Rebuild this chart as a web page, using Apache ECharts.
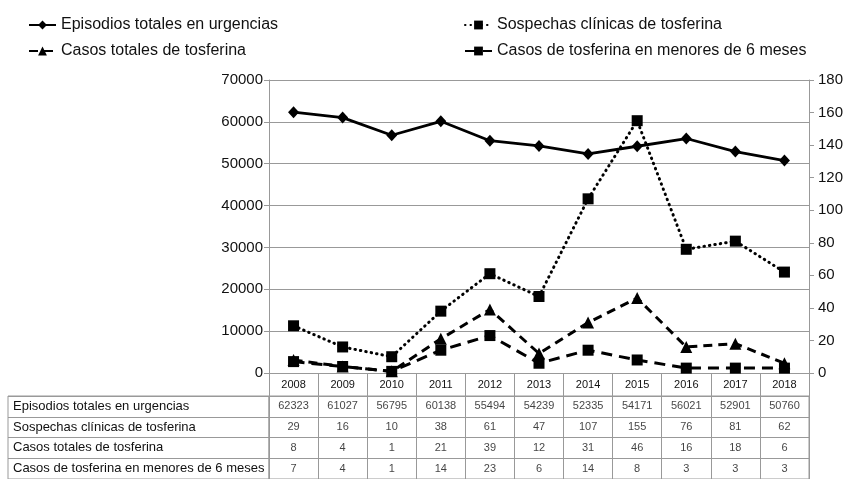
<!DOCTYPE html>
<html><head><meta charset="utf-8">
<script src="https://cdn.jsdelivr.net/npm/echarts@6/dist/echarts.min.js"></script>
<style>html,body{margin:0;padding:0;background:#fff}#c{width:848px;height:479px}</style>
</head><body><div id="c"></div>
<script>
var years = ['2008','2009','2010','2011','2012','2013','2014','2015','2016','2017','2018'];
var episodios = [62323,61027,56795,60138,55494,54239,52335,54171,56021,52901,50760];
var sospechas = [29,16,10,38,61,47,107,155,76,81,62];
var casosTotales = [8,4,1,21,39,12,31,46,16,18,6];
var menores6 = [7,4,1,14,23,6,14,8,3,3,3];
var seriesNames = ['Episodios totales en urgencias','Sospechas clínicas de tosferina','Casos totales de tosferina','Casos de tosferina en menores de 6 meses'];
var leftTicks = {min:0, max:70000, interval:10000};
var rightTicks = {min:0, max:180, interval:20};

var FONT = 'Liberation Sans, Arial, sans-serif';
var GRID_C = '#999';
var rows = [episodios, sospechas, casosTotales, menores6];
var cells = [];
rows.forEach(function(r, ri){ r.forEach(function(v, ci){ cells.push([ci, ri, v]); }); });

var chart = echarts.init(document.getElementById('c'));
chart.setOption({
  animation:false,
  textStyle:{fontFamily:FONT},
  legend:[
    {data:[seriesNames[0], seriesNames[2]], orient:'vertical', left:23, top:12, itemWidth:27, itemHeight:11, itemGap:10,
     textStyle:{fontSize:16, color:'#111', fontFamily:FONT}},
    {data:[seriesNames[1], seriesNames[3]], orient:'vertical', left:459, top:12, itemWidth:27, itemHeight:11, itemGap:10,
     textStyle:{fontSize:16, color:'#111', fontFamily:FONT}}
  ],
  grid:[
    {left:269, right:39, top:80, height:293},
    {left:269, right:39, top:396, height:84, show:true, borderColor:GRID_C, borderWidth:1},
    {left:8, width:261, top:396, height:84, show:true, borderColor:GRID_C, borderWidth:1}
  ],
  xAxis:[
    {type:'category', gridIndex:0, data:years, boundaryGap:true,
     axisLine:{lineStyle:{color:GRID_C, width:1}},
     axisTick:{show:true, length:23, lineStyle:{color:GRID_C}},
     axisLabel:{fontSize:11, color:'#111', margin:6, interval:0}},
    {type:'category', gridIndex:1, data:years, boundaryGap:true,
     axisLine:{show:false}, axisTick:{show:false}, axisLabel:{show:false},
     splitLine:{show:true, lineStyle:{color:GRID_C}}},
    {type:'value', gridIndex:2, show:false}
  ],
  yAxis:[
    {type:'value', gridIndex:0, min:leftTicks.min, max:leftTicks.max, interval:leftTicks.interval,
     axisLine:{show:true, lineStyle:{color:GRID_C}},
     axisTick:{show:true, length:5, lineStyle:{color:GRID_C}},
     axisLabel:{fontSize:15, color:'#111', margin:6, formatter:function(v){return String(v);}},
     splitLine:{show:true, lineStyle:{color:GRID_C, width:1}}},
    {type:'value', gridIndex:0, position:'right', min:rightTicks.min, max:rightTicks.max, interval:rightTicks.interval,
     axisLine:{show:true, lineStyle:{color:GRID_C}},
     axisTick:{show:true, length:5, lineStyle:{color:GRID_C}},
     axisLabel:{fontSize:15, color:'#111', margin:9},
     splitLine:{show:false}},
    {type:'category', gridIndex:1, data:[0,1,2,3], inverse:true, boundaryGap:true,
     axisLine:{show:false}, axisTick:{show:false}, axisLabel:{show:false},
     splitLine:{show:true, lineStyle:{color:GRID_C}}},
    {type:'category', gridIndex:2, data:seriesNames, inverse:true, boundaryGap:true,
     axisLine:{show:false}, axisTick:{show:false},
     axisLabel:{inside:true, align:'left', margin:5, fontSize:13, color:'#111'},
     splitLine:{show:true, lineStyle:{color:GRID_C}}}
  ],
  series:[
    {name:seriesNames[0], type:'line', xAxisIndex:0, yAxisIndex:0, data:episodios,
     symbol:'diamond', symbolSize:[11,12], itemStyle:{color:'#000'}, lineStyle:{color:'#000', width:2.8, type:'solid'}, z:5},
    {name:seriesNames[1], type:'line', xAxisIndex:0, yAxisIndex:1, data:sospechas,
     symbol:'rect', symbolSize:11, itemStyle:{color:'#000'}, lineStyle:{color:'#000', width:3, type:[0.5,5], cap:'round'}},
    {name:seriesNames[2], type:'line', xAxisIndex:0, yAxisIndex:1, data:casosTotales,
     symbol:'triangle', symbolSize:12, itemStyle:{color:'#000'}, lineStyle:{color:'#000', width:3, type:[9,6]}},
    {name:seriesNames[3], type:'line', xAxisIndex:0, yAxisIndex:1, data:menores6,
     symbol:'rect', symbolSize:11, itemStyle:{color:'#000'}, lineStyle:{color:'#000', width:3, type:[11,7]}},
    {type:'scatter', xAxisIndex:1, yAxisIndex:2, data:cells, symbolSize:0, silent:true,
     label:{show:true, position:'inside', formatter:function(p){return String(p.value[2]);}, fontSize:11, color:'#111'}}
  ]
});
</script></body></html>
